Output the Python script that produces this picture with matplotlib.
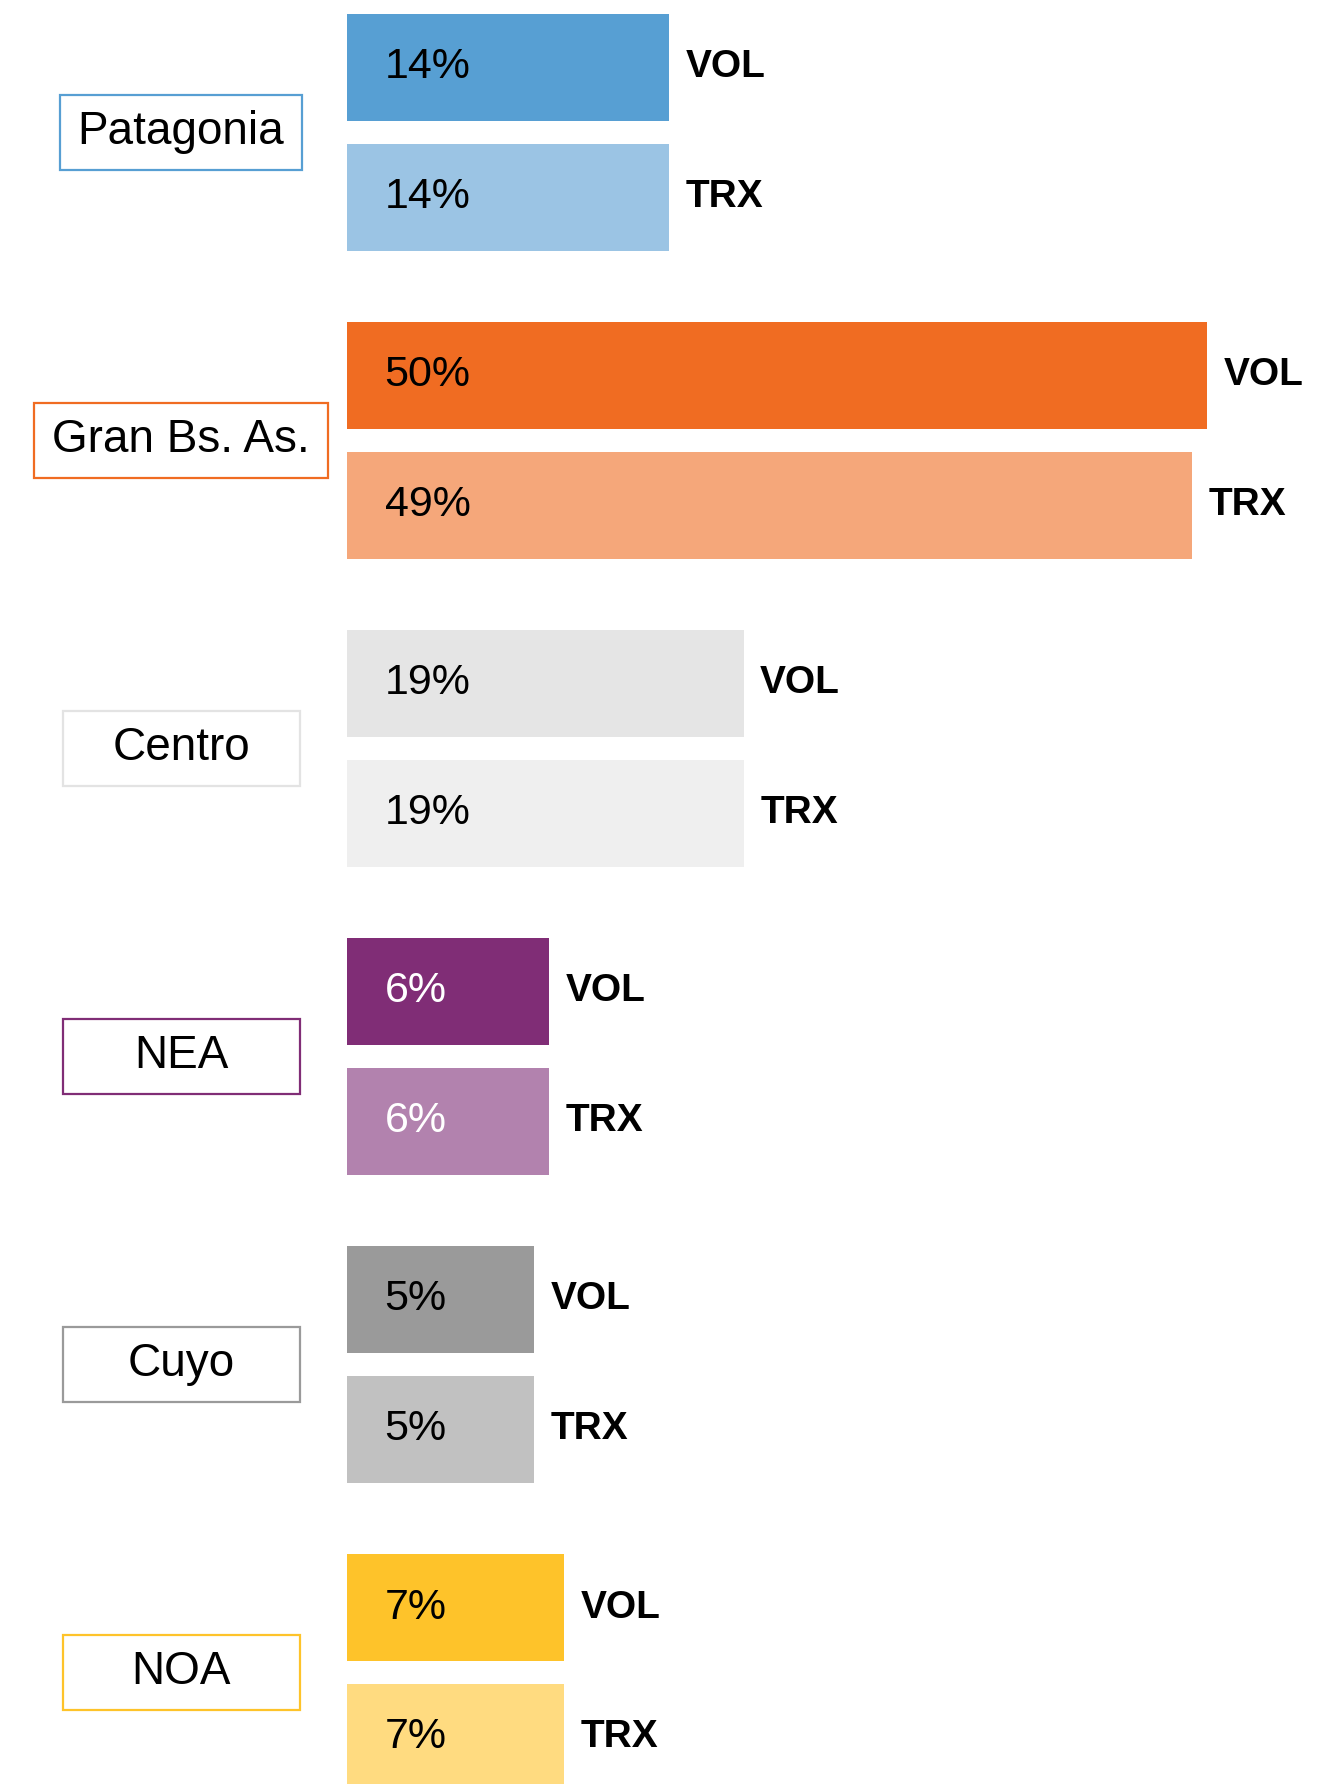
import numpy as np
import matplotlib.pyplot as plt
from matplotlib.patches import Rectangle
from matplotlib.transforms import blended_transform_factory

plt.rcParams["font.family"] = ["Liberation Sans", "DejaVu Sans"]

# datos
regions = ["Patagonia", "Gran Bs. As.", "Centro", "NEA", "Cuyo", "NOA"]
series = ["VOL", "TRX"]
vol = [14, 50, 19, 6, 5, 7]
trx = [14, 49, 19, 6, 5, 7]

vol_colors = ["#579fd3", "#f06c22", "#e5e5e5", "#802d76", "#9a9a9a", "#fec32a"]
trx_colors = ["#9bc4e4", "#f5a77a", "#efefef", "#b282ae", "#c1c1c1", "#ffdb80"]
box_colors = ["#579fd3", "#f06c22", "#e3e3e3", "#802d76", "#9a9a9a", "#fec32a"]
pct_colors = ["black", "black", "black", "white", "black", "black"]

BASE = 7.5    # las barras arrancan un poco antes del cero
OFF = 0.211   # separacion VOL / TRX dentro del grupo
H = 0.347     # alto de barra

fig = plt.figure(figsize=(13.21, 17.84), dpi=100)
ax = fig.add_axes([0, 0, 1, 1])
ax.set_xlim(-30.7, 57.6)
ax.set_ylim(5.362, -0.43)
ax.axis("off")

y = np.arange(len(regions))

for vals, cols, sign, name in [(vol, vol_colors, -1, series[0]), (trx, trx_colors, 1, series[1])]:
    vals = np.array(vals)
    yy = y + sign * OFF
    ax.barh(yy, vals + BASE, left=-BASE, height=H, color=cols)
    for i in range(len(regions)):
        ax.annotate(f"{vals[i]}%", xy=(-BASE, yy[i]), xytext=(27, 0),
                    textcoords="offset points", ha="left", va="center",
                    fontsize=31, color=pct_colors[i])
        ax.annotate(name, xy=(vals[i], yy[i]), xytext=(12, 0),
                    textcoords="offset points", ha="left", va="center",
                    fontsize=28, fontweight="bold", color="black")

# cajas con el nombre de la region
trans = blended_transform_factory(ax.transAxes, ax.transData)
renderer = fig.canvas.get_renderer()
cx = 181 / 1321
box_h = 75 / 308
for i, reg in enumerate(regions):
    t = ax.text(cx, y[i], reg, transform=trans, ha="center", va="center",
                fontsize=33, color="black", zorder=3)
    tw = t.get_window_extent(renderer).width
    w = max(237, tw + 36) / 1321
    ax.add_patch(Rectangle((cx - w / 2, y[i] - box_h / 2), w, box_h,
                           transform=trans, facecolor="white",
                           edgecolor=box_colors[i], linewidth=1.6, zorder=2))

fig.savefig("out.png", dpi=100)
